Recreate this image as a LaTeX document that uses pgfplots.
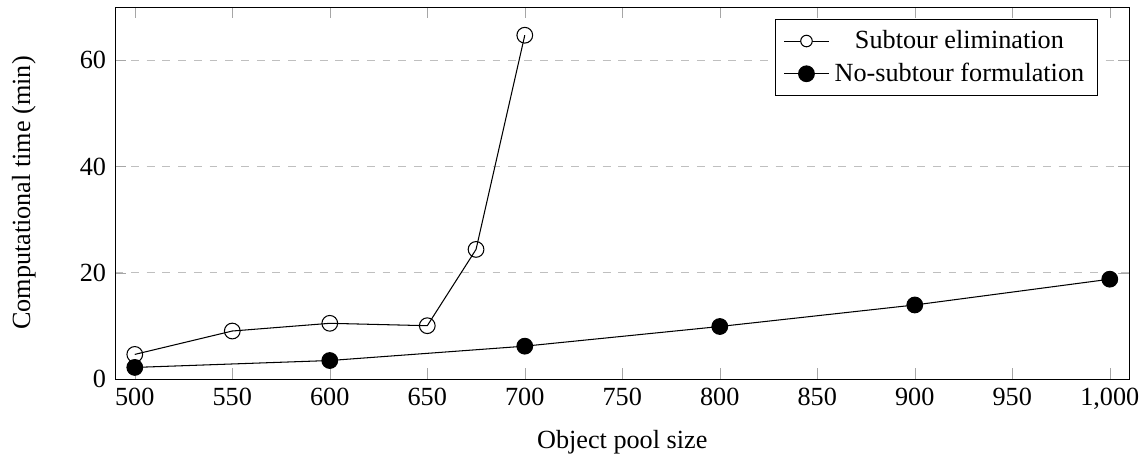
\documentclass[border=0pt]{standalone}
\usepackage{fontspec}
\setmainfont{Liberation Serif}
\usepackage{pgfplots}
\pgfplotsset{compat=1.18}
\begin{document}
\begin{tikzpicture}
\begin{axis}[
  scale only axis,
  width=387pt, height=142pt,
  xmin=490, xmax=1010, ymin=0, ymax=70,
  xtick={500,550,600,650,700,750,800,850,900,950,1000},
  ytick={0,20,40,60},
  /pgf/number format/assume math mode=true,
  ymajorgrids, grid style={dashed, gray!50},
  major tick style={gray!70},
  xlabel={Object pool size},
  ylabel={Computational time (min)},
  xlabel style={yshift=-1pt},
  ylabel style={yshift=10pt},
  legend style={at={(rel axis cs:0.969,0.968)}, anchor=north east, font=\normalsize},
  legend cell align=center,
  every axis plot/.append style={black, thin},
]
\addplot[mark=o, mark size=3pt,
  legend image code/.code={\draw[black,thin] (0cm,0cm) -- (0.6cm,0cm); \draw[black,thin,fill=white] (0.3cm,0cm) circle (2.2pt);}]
  coordinates {
(500,4.65) (550,9.05) (600,10.5) (650,10.05) (675,24.4) (700,64.7)
};
\addlegendentry{Subtour elimination}
\addplot[mark=*, mark size=3pt, mark options={fill=black}] coordinates {
(500,2.2) (600,3.5) (700,6.2) (800,9.9) (900,13.95) (1000,18.8)
};
\addlegendentry{No-subtour formulation}
\end{axis}
\path (current axis.north east) ++(6.5pt,2.7pt);
\path (current axis.south west) ++(-44pt,0pt);
\end{tikzpicture}
\end{document}
